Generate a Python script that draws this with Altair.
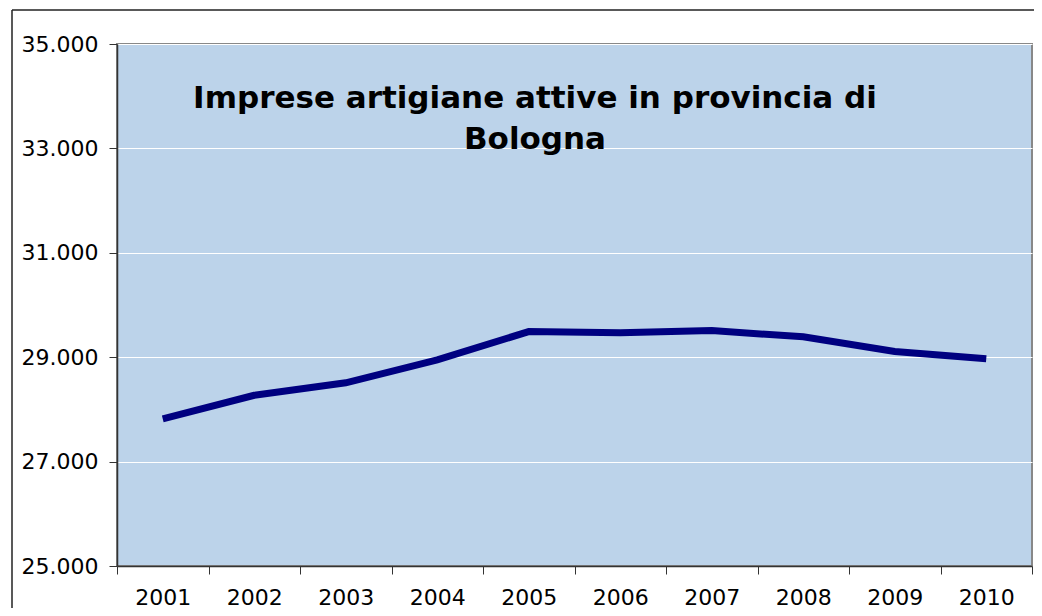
import altair as alt
import pandas as pd

years = ["2001", "2002", "2003", "2004", "2005", "2006", "2007", "2008", "2009", "2010"]
imprese = [27820, 28270, 28510, 28950, 29490, 29470, 29510, 29390, 29110, 28970]
y_ticks = [25000, 27000, 29000, 31000, 33000, 35000]
title_lines = "Imprese artigiane attive in provincia di\nBologna"

df = pd.DataFrame({"anno": years, "imprese": imprese})
FONT = "DejaVu Sans"

x_enc = alt.X("anno:N", sort=years, title=None,
              scale=alt.Scale(paddingInner=0, paddingOuter=0),
              axis=alt.Axis(labelAngle=0, tickBand="extent", labelFont=FONT, labelFontSize=22,
                            labelColor="#000", labelPadding=13, tickSize=8, tickColor="#333",
                            domainColor="#333", domainWidth=1.5, grid=False))
y_enc = alt.Y("imprese:Q", title=None,
              scale=alt.Scale(domain=[25000, 35000], nice=False, zero=False),
              axis=alt.Axis(values=y_ticks, labelFont=FONT, labelFontSize=22, labelColor="#000",
                            labelPadding=11, tickSize=8, tickColor="#333", domainColor="#333",
                            domainWidth=1.5, gridColor="#ffffff", gridWidth=1, gridOpacity=1,
                            labelExpr="replace(format(datum.value, ','), ',', '.')"))

line = alt.Chart(df).mark_line(color="#000080", strokeWidth=7, strokeCap="butt").encode(
    x=x_enc, y=y_enc)

title = alt.Chart(pd.DataFrame({"t": [title_lines]})).mark_text(
    font=FONT, fontSize=31, fontWeight="bold", color="#000", align="center",
    baseline="alphabetic", lineBreak="\n", lineHeight=41
).encode(text="t:N", x=alt.value(418), y=alt.value(64))

frame = pd.DataFrame({"k": [0]})
left_rule = alt.Chart(frame).mark_rule(color="#222", strokeWidth=1.5).encode(
    x=alt.value(-105), y=alt.value(-34), y2=alt.value(600))
top_rule = alt.Chart(frame).mark_rule(color="#222", strokeWidth=1.5).encode(
    x=alt.value(-105), x2=alt.value(1000), y=alt.value(-34))

chart = alt.layer(line, title, left_rule, top_rule).properties(
    width=915, height=522,
    padding={"left": 109, "top": 36, "right": 2, "bottom": 42},
    autosize=alt.AutoSizeParams(type="none"),
    background="#ffffff",
).configure_view(fill="#BCD3EA", stroke="#888888", strokeWidth=2)

chart.save("out.html", embed_options={"renderer": "svg", "actions": False})
